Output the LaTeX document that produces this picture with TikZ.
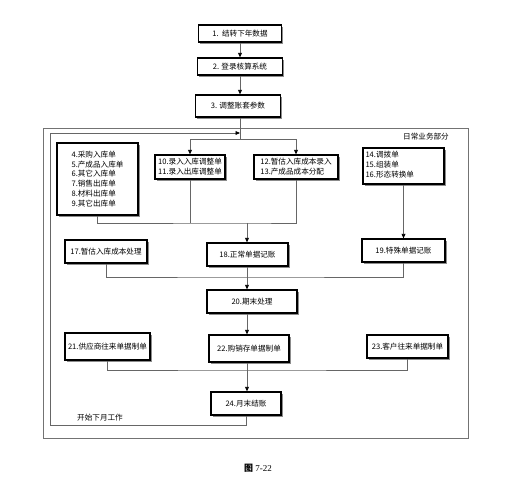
\documentclass[tikz,border=0pt]{standalone}
\usepackage{fontspec}
\setmainfont{Liberation Serif}
\newfontfamily\cjk{Noto Sans CJK SC}
\usetikzlibrary{shadows,arrows.meta}
\begin{document}
\begin{tikzpicture}[x=1pt,y=-1pt,
  box/.style={draw=black, line width=1.2pt, fill=white, inner sep=1.5pt,
    font=\cjk\fontsize{7.6}{9.8}\selectfont,
    drop shadow={shadow xshift=1.8pt,shadow yshift=-1.8pt,fill=black!45,opacity=1}},
  conn/.style={draw=black!60, line width=0.8pt},
  arr/.style={conn, -{Triangle[length=4.5pt,width=3.8pt,color=black]}},
  lbl/.style={font=\cjk\fontsize{7.6}{9}\selectfont, inner sep=0pt}]
\useasboundingbox (0,0) rectangle (530,489);
% frame of the daily part
\draw[draw=black!55, line width=0.9pt] (43,128) rectangle (468,438);
\node[lbl] (daily) at (426,137) {日常业务部分};
% top chain
\node[box, minimum width=83pt, minimum height=17pt] (b1) at (240,33.5) {1.\ \ 结转下年数据};
\node[box, minimum width=85pt, minimum height=17pt] (b2) at (240,66.5) {2. 登录核算系统};
\node[box, minimum width=85pt, minimum height=22pt] (b3) at (238,106) {3. 调整账套参数};
% documents
\node[box, minimum width=81pt, minimum height=72pt, align=left] (b4) at (97.5,179)
  {4.采购入库单\\5.产成品入库单\\6.其它入库单\\7.销售出库单\\8.材料出库单\\9.其它出库单};
\node[box, minimum width=70pt, minimum height=24pt, align=left] (b10) at (190,167)
  {10.录入入库调整单\\11.录入出库调整单};
\node[box, minimum width=84pt, minimum height=24pt, align=left] (b12) at (296,167)
  {12.暂估入库成本录入\\13.产成品成本分配};
\node[box, minimum width=81pt, minimum height=36pt, align=left, text width=76pt] (b14) at (403.5,166)
  {14.调拨单\\15.组装单\\16.形态转换单\\[-7pt]~};
% posting
\node[box, minimum width=82pt, minimum height=23pt] (b17) at (106,251.5) {17.暂估入库成本处理};
\node[box, minimum width=81pt, minimum height=23pt] (b18) at (247.5,254.5) {18.正常单据记账};
\node[box, minimum width=83pt, minimum height=23pt] (b19) at (403.5,250.5) {19.特殊单据记账};
\node[box, minimum width=90pt, minimum height=23pt] (b20) at (252,301.5) {20.期末处理};
% vouchers
\node[box, minimum width=85pt, minimum height=27pt] (b21) at (107.5,346.5) {21.供应商往来单据制单};
\node[box, minimum width=80pt, minimum height=27pt] (b22) at (249,348.5) {22.购销存单据制单};
\node[box, minimum width=81pt, minimum height=23pt] (b23) at (407.5,346.5) {23.客户往来单据制单};
\node[box, minimum width=70pt, minimum height=23pt] (b24) at (246,403.5) {24.月末结账};
\node[lbl] (next) at (100,418) {开始下月工作};
% junctions
\coordinate (j1) at (240,139);
\coordinate (j2) at (247,223);
\coordinate (j3) at (247,277);
\coordinate (j4) at (247,370);
\coordinate (l1) at (50,425);
\coordinate (l2) at (50,133);
% connectors
\draw[arr] (b1.south -| j1) -- (j1 |- b2.north);
\draw[arr] (b2.south -| j1) -- (j1 |- b3.north);
\draw[conn] (b3.south -| j1) -- (j1);
\draw[arr] (j1) -| (b10.north);
\draw[arr] (j1) -| (b12.north);
\draw[conn] (b4.south) |- (j2) -| (b12.south);
\draw[conn] (b10.south) -- (b10.south |- j2);
\draw[arr] (j2) -- (j2 |- b18.north);
\draw[arr] (b14.south) -- (b14.south |- b19.north);
\draw[conn] (b17.south) |- (j3) -| (b19.south);
\draw[conn] (j3 |- b18.south) -- (j3);
\draw[arr] (j3) -- (j3 |- b20.north);
\draw[arr] (j3 |- b20.south) -- (j3 |- b22.north);
\draw[conn] (b21.south) |- (j4) -| (b23.south);
\draw[conn] (j4 |- b22.south) -- (j4);
\draw[arr] (j4) -- (j4 |- b24.north);
\draw[arr] (b24.south) |- (l1) -- (l2) -- (l2 -| j1);
% caption
\node[inner sep=0pt, font=\fontsize{9}{10}\selectfont] (cap) at (258,468) {{\cjk\bfseries 图} 7-22};
\end{tikzpicture}
\end{document}
